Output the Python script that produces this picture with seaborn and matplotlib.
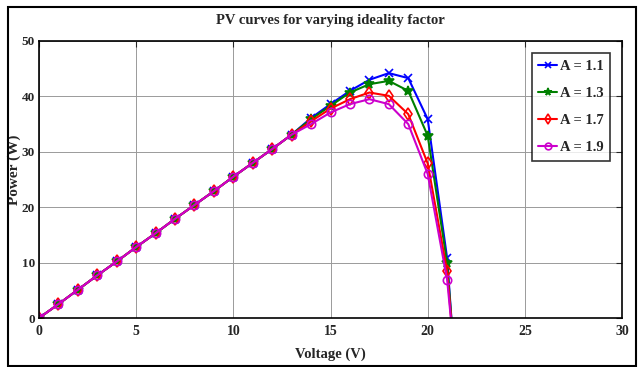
import numpy as np
import pandas as pd
import matplotlib
matplotlib.use('Agg')
import matplotlib.pyplot as plt
import seaborn as sns
from matplotlib.patches import Rectangle

# Data (voltage in V, power in W)
voltage = [0, 1, 2, 3, 4, 5, 6, 7, 8, 9, 10, 11, 12, 13, 14, 15, 16, 17, 18, 19, 20, 21, 21.3]
linear_part = [0, 2.5, 5.1, 7.7, 10.2, 12.8, 15.3, 17.9, 20.4, 22.9, 25.5, 28.0, 30.5, 33.1]
p_a11 = linear_part + [36.1, 38.6, 41.0, 43.0, 44.2, 43.3, 35.9, 10.8, -4]
p_a13 = linear_part + [35.9, 38.3, 40.7, 42.2, 42.8, 41.0, 32.9, 9.9, -4]
p_a17 = linear_part + [35.5, 37.8, 39.5, 40.7, 40.1, 36.8, 27.9, 8.4, -4]
p_a19 = linear_part + [35.0, 37.1, 38.6, 39.5, 38.6, 35.0, 26.0, 6.9, -4]
labels = ['A = 1.1', 'A = 1.3', 'A = 1.7', 'A = 1.9']

df = pd.concat([
    pd.DataFrame({'voltage': voltage, 'power': p, 'series': lab})
    for p, lab in zip([p_a11, p_a13, p_a17, p_a19], labels)
])

sns.set_style('white')
plt.rcParams['font.family'] = ['Liberation Serif', 'DejaVu Serif']
plt.rcParams['font.weight'] = 'bold'

fig = plt.figure(figsize=(6.38, 3.67), dpi=100)
ax = fig.add_axes([0.0611, 0.1335, 0.9139, 0.7548])

styles = {
    'A = 1.1': dict(color='#0000ff', marker='x', ms=6, mfc='none'),
    'A = 1.3': dict(color='#008000', marker='*', ms=7, mfc='#008000'),
    'A = 1.7': dict(color='#ff0000', marker='d', ms=6, mfc='none'),
    'A = 1.9': dict(color='#cc00cc', marker='o', ms=6, mfc='none'),
}
for lab in labels:
    st = styles[lab]
    sns.lineplot(data=df[df['series'] == lab], x='voltage', y='power', ax=ax,
                 color=st['color'], marker=st['marker'], markersize=st['ms'],
                 markerfacecolor=st['mfc'], markeredgecolor=st['color'],
                 markeredgewidth=1.2, linewidth=1.5, label=lab, sort=False)

ax.set_xlim(0, 30)
ax.set_ylim(0, 50)
ax.set_xticks(np.arange(0, 31, 5))
ax.set_yticks(np.arange(0, 51, 10))
ax.grid(True, color='#9a9a9a', linewidth=0.7)
ax.tick_params(direction='in', top=True, right=True, length=4, labelsize=10)
ax.tick_params(axis='x', pad=5)
ax.tick_params(axis='y', pad=3, labelsize=9.5)
for lbl in ax.get_xticklabels() + ax.get_yticklabels():
    lbl.set_fontweight('bold')
for sp in ax.spines.values():
    sp.set_color('black')
    sp.set_linewidth(1.2)

ax.set_title('PV curves for varying ideality factor', fontsize=10.5,
             fontweight='bold', pad=12)
ax.set_xlabel('Voltage (V)', fontsize=10.5, fontweight='bold', labelpad=7)
ax.set_ylabel('Power (W)', fontsize=11, fontweight='bold')
ax.yaxis.set_label_coords(-0.031, 0.534)

leg = ax.legend(loc='upper right', bbox_to_anchor=(0.98, 0.955), fontsize=10.5,
                frameon=True, fancybox=False, edgecolor='black',
                labelspacing=0.95, handlelength=1.3, handletextpad=0.2,
                borderpad=0.45, borderaxespad=0, markerscale=0.8)
leg.get_frame().set_linewidth(1.2)
for t in leg.get_texts():
    t.set_fontweight('bold')

# outer frame around the figure
fig.add_artist(Rectangle((8 / 638, 1 - 366 / 367), 628 / 638, 359 / 367,
                         transform=fig.transFigure, fill=False,
                         edgecolor='black', linewidth=1.5))

fig.savefig('out.png', dpi=100)
